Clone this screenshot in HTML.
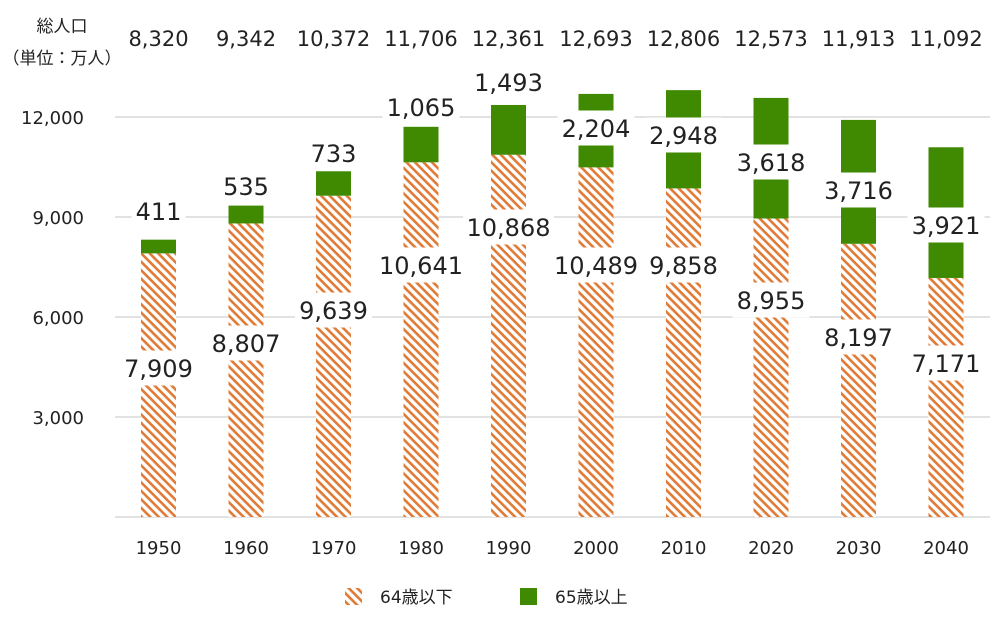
<!DOCTYPE html>
<html><head><meta charset="utf-8"><style>body{margin:0;background:#fff}svg{display:block}text{font-family:"DejaVu Sans","Noto Sans CJK JP",sans-serif;fill:#222}</style></head><body>
<svg width="1000" height="625" xmlns="http://www.w3.org/2000/svg">
<defs><pattern id="h" width="6" height="6" patternUnits="userSpaceOnUse" patternTransform="rotate(45)"><rect width="6" height="6" fill="#fff"/><rect width="6" height="2.6" fill="#e07a35"/></pattern></defs>
<g stroke="#d9d9d9" stroke-width="1.5">
<line x1="115" x2="990" y1="117" y2="117"/><line x1="115" x2="990" y1="217" y2="217"/><line x1="115" x2="990" y1="317" y2="317"/><line x1="115" x2="990" y1="417" y2="417"/><line x1="115" x2="990" y1="517" y2="517"/></g>
<g font-size="18" text-anchor="end"><text x="84" y="124">12,000</text><text x="84" y="224">9,000</text><text x="84" y="324">6,000</text><text x="84" y="424">3,000</text></g>
<text x="62" y="32" font-size="17" text-anchor="middle">総人口</text>
<text x="62" y="64" font-size="17" text-anchor="middle">（単位：万人）</text>
<g id="bars"></g>
<g font-size="17"><rect x="345" y="588" width="17" height="17" fill="url(#h)"/><text x="380" y="603">64歳以下</text><rect x="520" y="588" width="17" height="17" fill="#3f8a00"/><text x="555" y="603">65歳以上</text></g>
</svg>
<script>
var d=[[1950,7909,411,8320,368,211],[1960,8807,535,9342,343,186],[1970,9639,733,10372,310,153],[1980,10641,1065,11706,265,107],[1990,10868,1493,12361,227,82],[2000,10489,2204,12693,265,128],[2010,9858,2948,12806,265,135],[2020,8955,3618,12573,300,162],[2030,8197,3716,11913,337,190],[2040,7171,3921,11092,363,225]];
var s='';
function y(v){return 517-v/30}
function f(n){return n.toLocaleString('en-US')}
function lab(x,cy,t){var w=t.length*(t.length>4?13.8:15.3)+8;return '<rect x="'+(x-w/2)+'" y="'+(cy-17.5)+'" width="'+w+'" height="35" fill="#fff"/><text x="'+x+'" y="'+(cy+9)+'" font-size="24" text-anchor="middle">'+t+'</text>';}
d.forEach(function(r,i){var c=158.5+87.5*i,x=c-17.5;
s+='<rect x="'+x+'" y="'+y(r[1])+'" width="35" height="'+(517-y(r[1]))+'" fill="url(#h)"/>';
s+='<rect x="'+x+'" y="'+y(r[3])+'" width="35" height="'+(y(r[1])-y(r[3]))+'" fill="#3f8a00"/>';
s+=lab(c,r[4],f(r[1]));s+=lab(c,r[5],f(r[2]));
s+='<text x="'+c+'" y="46" font-size="21" text-anchor="middle">'+f(r[3])+'</text>';
s+='<text x="'+c+'" y="554" font-size="18" text-anchor="middle">'+r[0]+'</text>';});
document.getElementById('bars').innerHTML=s;
</script>
</body></html>
